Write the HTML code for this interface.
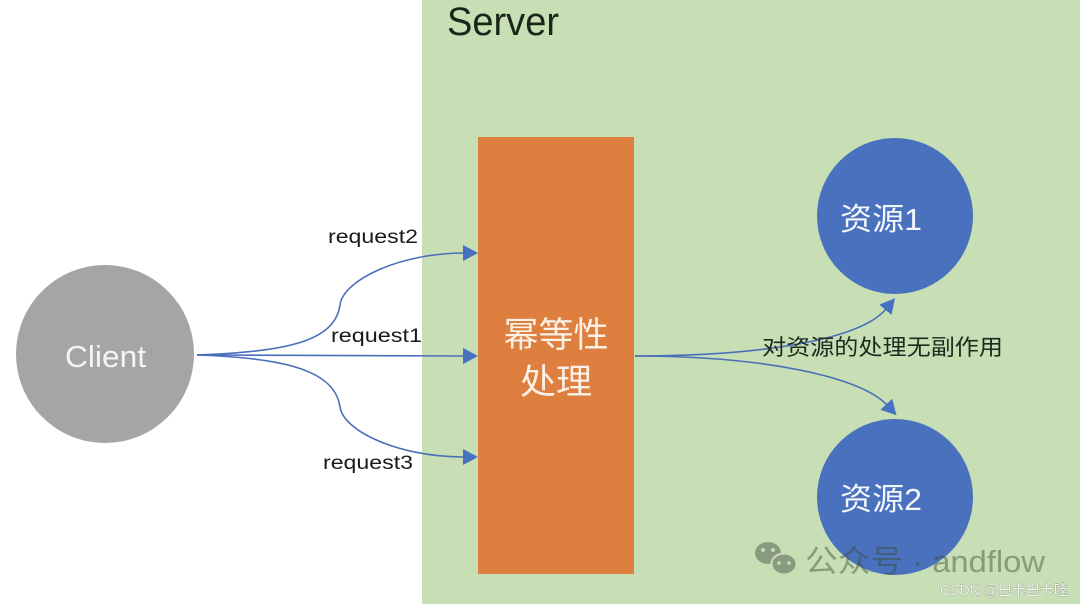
<!DOCTYPE html>
<html>
<head>
<meta charset="utf-8">
<style>
  html,body{margin:0;padding:0;background:#fff;}
  svg{display:block;}
  text{font-family:"Liberation Sans","Noto Sans CJK SC",sans-serif;}
</style>
</head>
<body>
<svg width="1080" height="604" viewBox="0 0 1080 604" xmlns="http://www.w3.org/2000/svg">
  <defs>
    <marker id="ah" markerUnits="userSpaceOnUse" markerWidth="16" markerHeight="16" viewBox="0 0 16 16" refX="1" refY="8" orient="auto">
      <path d="M0,0 L15,8 L0,16 z" fill="#4670c0"/>
    </marker>
  </defs>

  <rect x="0" y="0" width="1080" height="604" fill="#ffffff"/>
  <!-- server panel -->
  <rect x="422" y="0" width="658" height="604" fill="#c8dfb5"/>
  <text x="447" y="35" font-size="40" fill="#1b261b" textLength="112" lengthAdjust="spacingAndGlyphs">Server</text>

  <!-- client -->
  <circle cx="105" cy="354" r="89" fill="#a5a5a5"/>
  <text x="65" y="367" font-size="31" fill="#f4f4f4" textLength="81" lengthAdjust="spacingAndGlyphs">Client</text>

  <!-- orange box -->
  <rect x="478" y="137" width="156" height="437" fill="#de7f3f"/>
  <text x="556" y="347" font-size="35" fill="#fbf1e6" text-anchor="middle" textLength="105" lengthAdjust="spacingAndGlyphs">幂等性</text>
  <text x="556" y="394" font-size="35" fill="#fbf1e6" text-anchor="middle" textLength="72" lengthAdjust="spacingAndGlyphs">处理</text>

  <!-- resources -->
  <circle cx="895" cy="216" r="78" fill="#4a71be"/>
  <text x="840" y="230" font-size="31" fill="#f4f6fb" textLength="82" lengthAdjust="spacingAndGlyphs">资源1</text>
  <circle cx="895" cy="497" r="78" fill="#4a71be"/>
  <text x="840" y="510" font-size="31" fill="#f4f6fb" textLength="82" lengthAdjust="spacingAndGlyphs">资源2</text>

  <!-- request connectors -->
  <g fill="none" stroke="#4a6fba" stroke-width="1.6">
    <path d="M197,355 C290,352 335,340 340,305 C343,280 400,253 464,253" marker-end="url(#ah)"/>
    <path d="M197,355 L464,356" marker-end="url(#ah)"/>
    <path d="M197,355 C290,358 335,372 340,407 C344,432 400,457 464,457" marker-end="url(#ah)"/>
    <path d="M635,356 C760,356 860,340 886,309" marker-end="url(#ah)"/>
    <path d="M635,356 C760,356 860,376 887,405" marker-end="url(#ah)"/>
  </g>

  <text x="328" y="243" font-size="19" fill="#1a1a1a" textLength="90" lengthAdjust="spacingAndGlyphs">request2</text>
  <text x="331" y="342" font-size="19" fill="#1a1a1a" textLength="91" lengthAdjust="spacingAndGlyphs">request1</text>
  <text x="323" y="469" font-size="19" fill="#1a1a1a" textLength="90" lengthAdjust="spacingAndGlyphs">request3</text>

  <text x="762" y="355" font-size="22" fill="#1e2a1e" textLength="241" lengthAdjust="spacingAndGlyphs">对资源的处理无副作用</text>

  <!-- watermark -->
  <g>
    <ellipse cx="768" cy="553" rx="13" ry="11" fill="#8a9a80"/>
    <ellipse cx="784" cy="564" rx="12.5" ry="10.5" fill="#8a9a80" stroke="#c8dfb5" stroke-width="2"/>
    <circle cx="763" cy="550" r="2" fill="#c8dfb5"/>
    <circle cx="773" cy="550" r="2" fill="#c8dfb5"/>
    <circle cx="779" cy="563" r="1.8" fill="#c8dfb5"/>
    <circle cx="789" cy="563" r="1.8" fill="#c8dfb5"/>
  </g>
  <text x="805" y="572" font-size="31" fill="rgba(60,70,50,0.45)" textLength="240" lengthAdjust="spacingAndGlyphs">公众号 · andflow</text>
  <text x="940" y="595" font-size="15" fill="#f4f6f2" stroke="rgba(95,100,90,0.7)" stroke-width="0.6" paint-order="stroke" textLength="128" lengthAdjust="spacingAndGlyphs">CSDN @巴卡巴卡哇</text>
</svg>
</body>
</html>
